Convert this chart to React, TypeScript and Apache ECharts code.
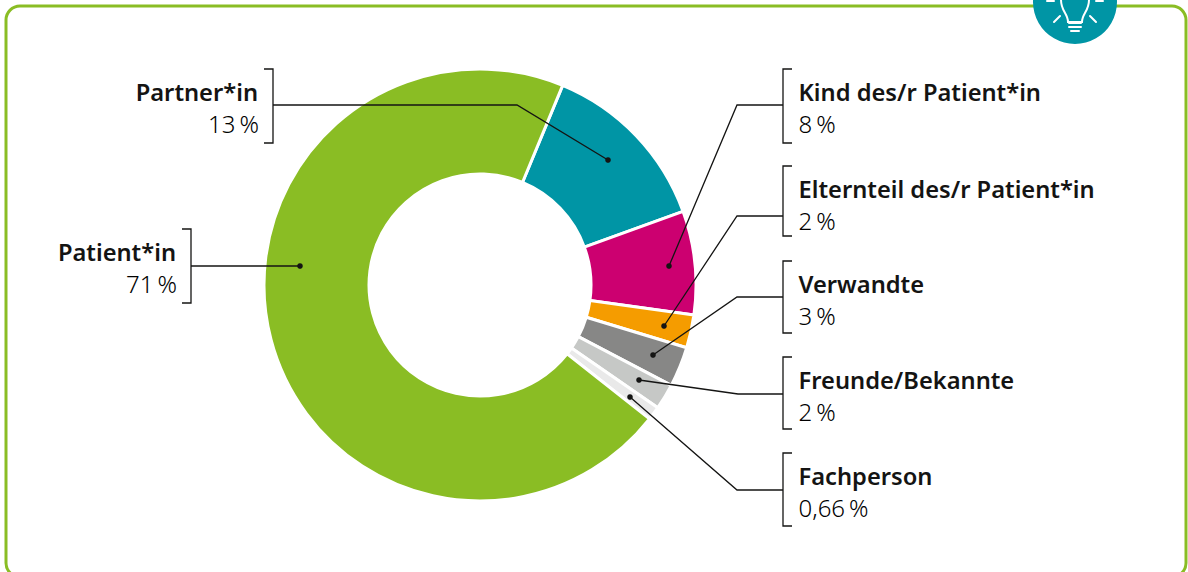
import React, { useEffect, useRef } from "react";
import * as echarts from "echarts";

const categories = ["Partner*in", "Kind des/r Patient*in", "Elternteil des/r Patient*in", "Verwandte", "Freunde/Bekannte", "Fachperson", "Patient*in"];
const sliceValues = [13.22, 7.75, 2.47, 3.0, 1.92, 1.03, 70.61];
const shownLabels = ["13\u2009%", "8\u2009%", "2\u2009%", "3\u2009%", "2\u2009%", "0,66\u2009%", "71\u2009%"];
const colors = ["#0095a5", "#cc0070", "#f59c00", "#878786", "#c6c8c6", "#e9e9e9", "#8abd24"];

// side, bracket x, bracket top, bracket bottom, elbow y, elbow x, dot x, dot y
const callouts: [number, number, number, number, number, number, number, number][] = [
  [-1, 273, 69, 143, 105, 517, 608, 160],
  [1, 783, 69, 143, 105, 737, 669, 266],
  [1, 783, 166, 236, 216, 737, 664, 326],
  [1, 783, 261, 333, 297, 737, 653, 355],
  [1, 783, 357, 429, 394, 738, 639, 380],
  [1, 783, 453, 526, 490, 737, 630, 397],
  [-1, 191, 229, 303, 266, 300, 300, 266],
];

const BULB = "M8 22 C8 14 1 11 1 0 C1 -10 8 -16 15 -16 C22 -16 29 -10 29 0 C29 11 22 14 22 22 Z";
echarts.graphic.registerShape("bulb", echarts.graphic.extendPath(BULB, {}) as any);

const ink = "#141413";
const font = '"Noto Sans", sans-serif';

function calloutGraphics() {
  const out: any[] = [];
  callouts.forEach(([side, bx, top, bottom, ey, ex, dx, dy], i) => {
    const tx = bx + side * 9;
    out.push({
      type: "polyline", z: 20, silent: true,
      shape: { points: [[tx, top], [bx, top], [bx, bottom], [tx, bottom]] },
      style: { stroke: ink, lineWidth: 1.3, fill: "none" },
    });
    const pts = i === 6 ? [[bx, ey], [dx, dy]] : [[bx, ey], [ex, ey], [dx, dy]];
    out.push({
      type: "polyline", z: 20, silent: true,
      shape: { points: pts },
      style: { stroke: ink, lineWidth: 1.3, fill: "none" },
    });
    out.push({ type: "circle", z: 21, silent: true, shape: { cx: dx, cy: dy, r: 2.8 }, style: { fill: ink } });
    const textX = side > 0 ? bx + 15.5 : bx - 15;
    const align = side > 0 ? "left" : "right";
    out.push({
      type: "text", z: 20, silent: true, x: textX, y: top + 23,
      style: { text: categories[i], font: `600 23.7px ${font}`, fill: ink, textAlign: align, textVerticalAlign: "middle" },
    });
    out.push({
      type: "text", z: 20, silent: true, x: textX + (side > 0 ? 0 : 1), y: top + 54,
      style: { text: shownLabels[i], font: `300 24px ${font}`, fill: "#000", textAlign: align, textVerticalAlign: "middle" },
    });
  });
  return out;
}

function iconGraphics() {
  const w = { stroke: "#fff", lineWidth: 2, fill: "none", lineCap: "round" };
  const ln = (x1: number, y1: number, x2: number, y2: number, lw = 2) => ({
    type: "line", z: 31, silent: true, shape: { x1, y1, x2, y2 }, style: { ...w, lineWidth: lw },
  });
  return [
    { type: "circle", z: 30, silent: true, shape: { cx: 1075, cy: 2, r: 42 }, style: { fill: "#0095a5" } },
    { type: "bulb", z: 31, silent: true, x: 1060, y: 0, style: { ...w } },
    ln(1069, 23, 1081, 23), ln(1069, 27, 1081, 27), ln(1071, 31, 1079, 31),
    ln(1054, 22, 1060, 16), ln(1090, 16, 1096, 22), ln(1047, 1, 1054, 1), ln(1096, 1, 1103, 1),
  ];
}

export default function App() {
  const ref = useRef<HTMLDivElement>(null);
  useEffect(() => {
    document.body.style.margin = "0";
    document.body.style.background = "#fff";
    const chart = echarts.init(ref.current!, null, { renderer: "svg" });
    chart.setOption({
      animation: false,
      backgroundColor: "#fff",
      series: [{
        type: "pie",
        center: [480, 285],
        radius: [111, 216],
        startAngle: 67.5,
        clockwise: true,
        silent: true,
        label: { show: false },
        labelLine: { show: false },
        itemStyle: { borderColor: "#fff", borderWidth: 3 },
        data: categories.map((name, i) => ({ name, value: sliceValues[i], itemStyle: { color: colors[i] } })),
      }],
      graphic: [
        {
          type: "rect", z: 5, silent: true,
          shape: { x: 6, y: 6, width: 1180, height: 571, r: 14 },
          style: { fill: "none", stroke: "#8abd24", lineWidth: 3 },
        },
        ...calloutGraphics(),
        ...iconGraphics(),
      ],
    });
    return () => chart.dispose();
  }, []);
  return <div ref={ref} style={{ width: 1188, height: 572 }} />;
}
